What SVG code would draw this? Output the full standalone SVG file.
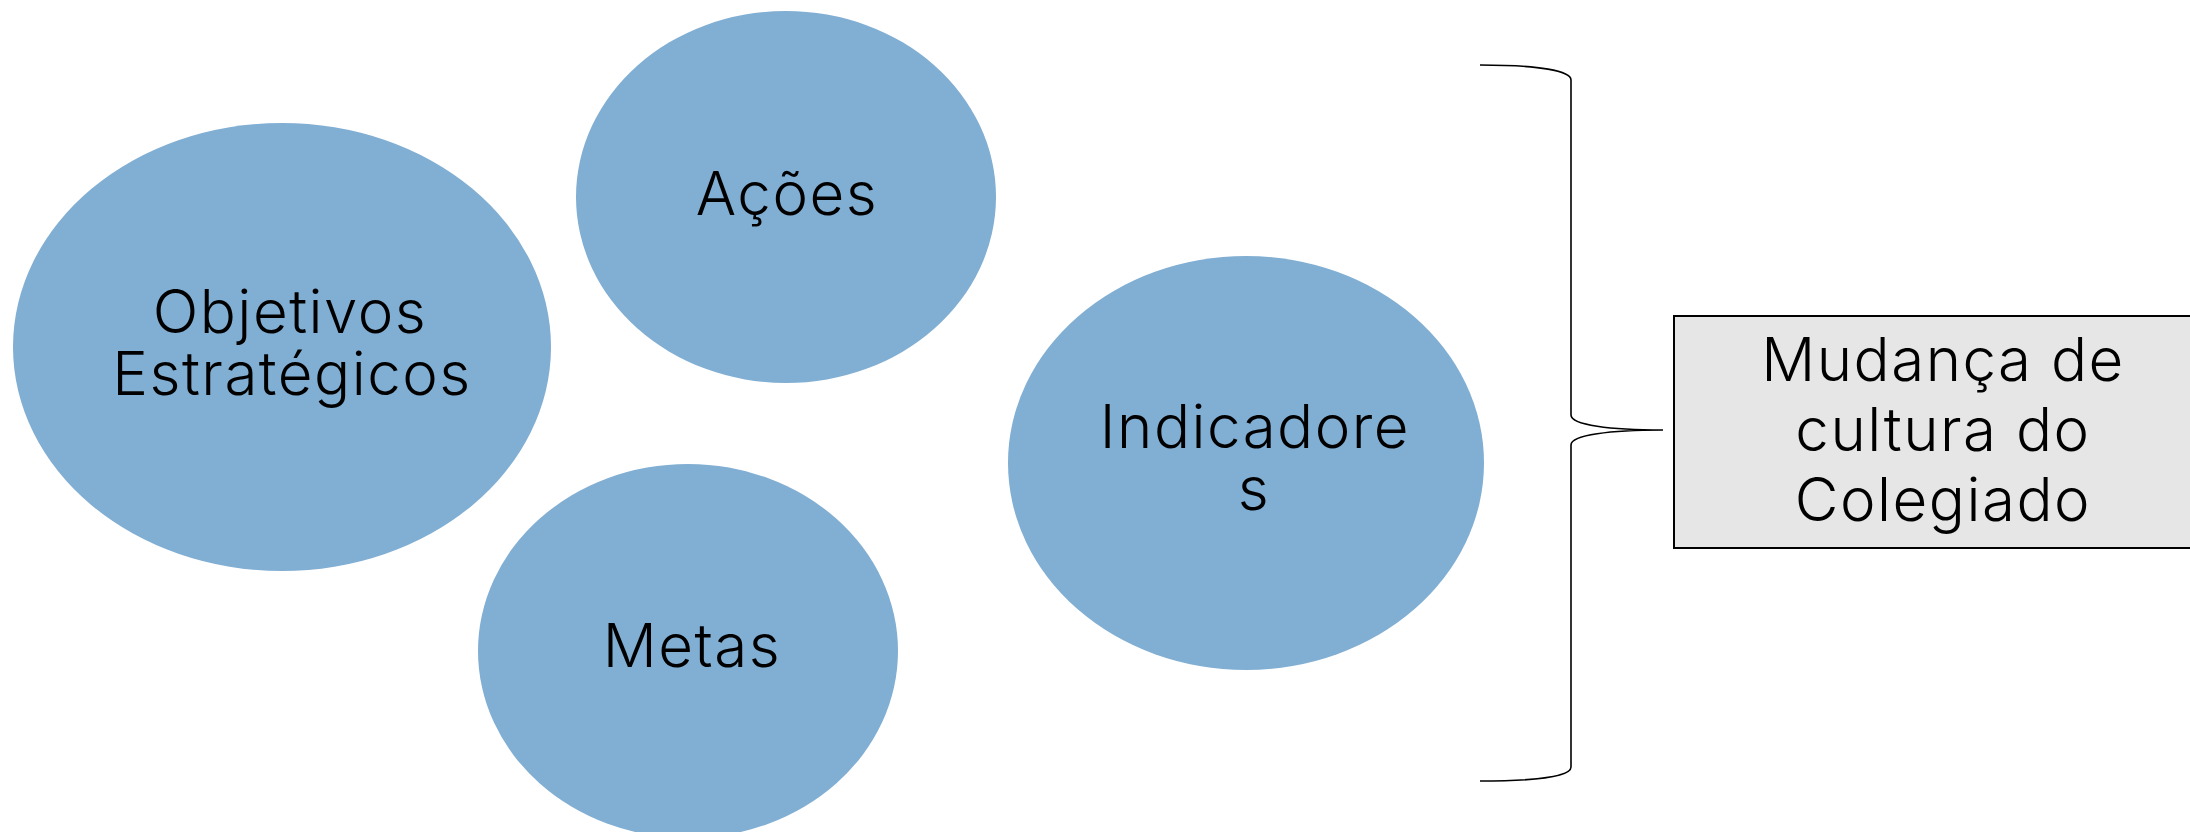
<svg xmlns="http://www.w3.org/2000/svg" width="2190" height="832" viewBox="0 0 2190 832">
<style>
.bubble{fill:#81aed3;stroke:none}
.lbl{font-family:Inter,"Open Sans","Liberation Sans",sans-serif;font-weight:300;font-size:60px;letter-spacing:1.5px;fill:#000;text-anchor:middle}
.box{fill:#e6e6e6;stroke:#000;stroke-width:2}
.brace{fill:none;stroke:#000;stroke-width:1.6}
</style>
<rect width="2190" height="832" fill="#fff"/>
<g id="node-objetivos">
<ellipse class="bubble" cx="282" cy="347" rx="269" ry="224"/>
<text class="lbl" x="290" y="333">Objetivos</text>
<text class="lbl" x="292" y="395">Estratégicos</text>
</g>
<g id="node-acoes">
<ellipse class="bubble" cx="786" cy="197" rx="210" ry="186"/>
<text class="lbl" x="787" y="215">Ações</text>
</g>
<g id="node-metas">
<ellipse class="bubble" cx="688" cy="651" rx="210" ry="187"/>
<text class="lbl" x="692" y="667">Metas</text>
</g>
<g id="node-indicadores">
<ellipse class="bubble" cx="1246" cy="463" rx="238" ry="207"/>
<text class="lbl" x="1255" y="448">Indicadore</text>
<text class="lbl" x="1254" y="510">s</text>
</g>
<g id="connectors">
<path class="brace" d="M1480,65 C1540,65 1571,71 1571,80 L1571,415 C1571,425 1610,430 1663,430 C1610,430 1571,435 1571,445 L1571,767 C1571,776 1540,781 1480,781"/>
</g>
<g id="node-mudanca">
<rect class="box" x="1674" y="316" width="536" height="232"/>
<text class="lbl" x="1943" y="381">Mudança de</text>
<text class="lbl" x="1943" y="451">cultura do</text>
<text class="lbl" x="1943" y="521">Colegiado</text>
</g>
</svg>
